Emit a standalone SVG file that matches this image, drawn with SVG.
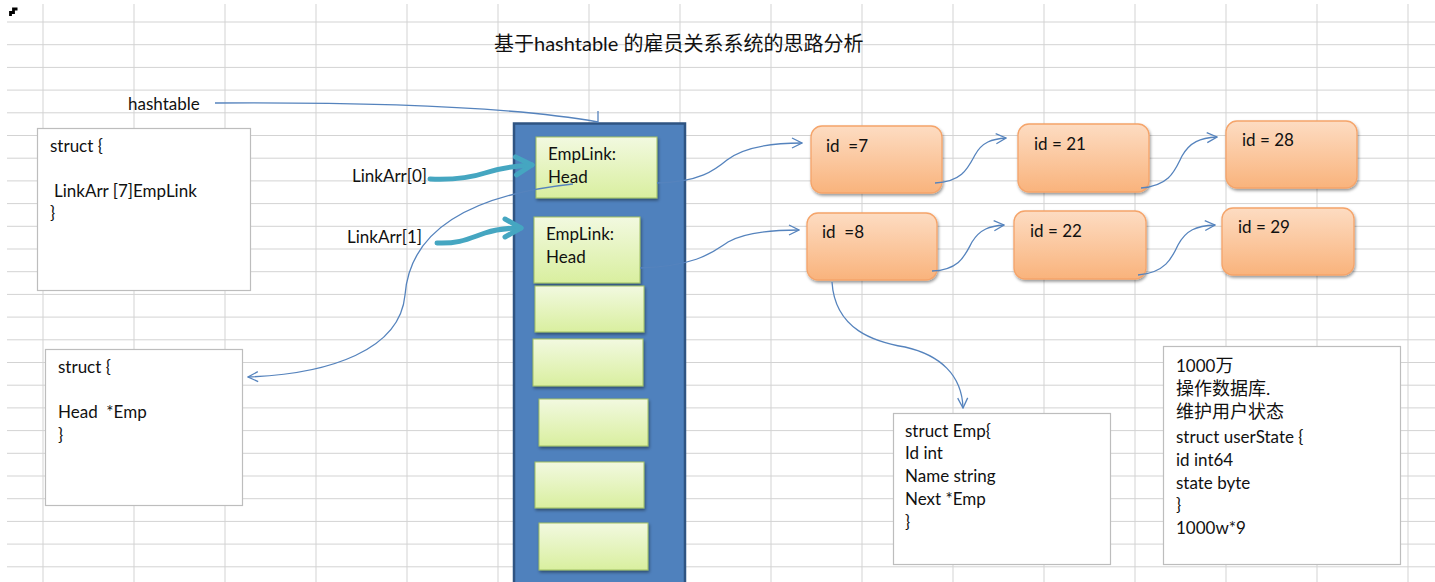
<svg xmlns="http://www.w3.org/2000/svg" width="1435" height="582" viewBox="0 0 1435 582">
<style>
text{font-family:"Lato","Noto Sans CJK SC",sans-serif;font-size:17px;fill:#111;white-space:pre}
.grid{stroke:#d3d3d3;stroke-width:1;fill:none}
.box{fill:#fff;stroke:#bdbdbd;stroke-width:1.2}
.green{fill:url(#gg);stroke:#9fbf62;stroke-width:1;filter:url(#sh)}
.orange{fill:url(#og);stroke:#f5a46a;stroke-width:1.3;filter:url(#sh)}
.conn{fill:none;stroke:#5583bd;stroke-width:1.3}
.teal{fill:none;stroke:#45a6c1;stroke-width:5;stroke-linecap:round;stroke-linejoin:round}
.cjk{font-size:18px}
</style>
<defs>
<linearGradient id="gg" x1="0" y1="0" x2="0" y2="1"><stop offset="0" stop-color="#f2f9e0"/><stop offset="1" stop-color="#d9ef9f"/></linearGradient>
<linearGradient id="og" x1="0" y1="0" x2="0" y2="1"><stop offset="0" stop-color="#fddcc2"/><stop offset="1" stop-color="#f9b37c"/></linearGradient>
<filter id="sh" x="-10%" y="-10%" width="130%" height="140%"><feDropShadow dx="1" dy="2" stdDeviation="1.5" flood-color="#000" flood-opacity="0.4"/></filter>
<marker id="ah" viewBox="0 0 12 12" refX="11" refY="6" markerWidth="12" markerHeight="12" markerUnits="userSpaceOnUse" orient="auto"><path d="M1,1 L11,6 L1,11" fill="none" stroke="#5583bd" stroke-width="1.3"/></marker>
<marker id="th" viewBox="0 0 24 24" refX="20" refY="12" markerWidth="24" markerHeight="24" markerUnits="userSpaceOnUse" orient="auto"><path d="M4,3 L20,12 L4,21" fill="none" stroke="#45a6c1" stroke-width="5" stroke-linecap="round" stroke-linejoin="round"/></marker>
</defs>
<rect width="1435" height="582" fill="#fff"/>
<g id="grid">
<path class="grid" d="M7,22H1435M7,44.7H1435M7,67.4H1435M7,90.1H1435M7,112.8H1435M7,135.5H1435M7,158.2H1435M7,180.9H1435M7,203.6H1435M7,226.3H1435M7,249H1435M7,271.7H1435M7,294.4H1435M7,317.1H1435M7,339.8H1435M7,362.5H1435M7,385.2H1435M7,407.9H1435M7,430.6H1435M7,453.3H1435M7,476H1435M7,498.7H1435M7,521.4H1435M7,544.1H1435M7,566.8H1435"/>
<path class="grid" d="M43,4V582M134,4V582M225,4V582M316,4V582M407,4V582M498,4V582M589,4V582M680,4V582M771,4V582M862,4V582M953,4V582M1044,4V582M1135,4V582M1226,4V582M1317,4V582M1408,4V582"/>
<path d="M10.5,16V12.5H13.5V9H17.5" fill="none" stroke="#000" stroke-width="2.8"/>
</g>
<text x="494" y="51" style="font-size:20px">基于hashtable 的雇员关系系统的思路分析</text>
<g id="hashtable-label"><text x="128" y="110">hashtable</text></g>
<g id="struct-linkarr">
<rect class="box" x="37.5" y="128.5" width="213" height="162"/>
<text x="50" y="152">struct {</text>
<text x="54" y="197">LinkArr [7]EmpLink</text>
<text x="50" y="219">}</text>
</g>
<g id="struct-head">
<rect class="box" x="45.5" y="349.5" width="197" height="156"/>
<text x="58" y="373">struct {</text>
<text x="58" y="418">Head  *Emp</text>
<text x="58" y="441">}</text>
</g>
<g id="label-linkarr0"><text x="352" y="182">LinkArr[0]</text></g>
<g id="label-linkarr1"><text x="347" y="243">LinkArr[1]</text></g>
<g id="hashtable-column">
<rect x="514" y="123.5" width="171" height="470" fill="#4f81bd" stroke="#2f5482" stroke-width="2.5"/>
</g>
<g id="emplink0"><rect class="green" x="536" y="137" width="121" height="61"/><text x="548" y="160">EmpLink:</text><text x="548" y="183">Head</text></g>
<g id="emplink1"><rect class="green" x="534" y="217" width="106" height="66"/><text x="546" y="240">EmpLink:</text><text x="546" y="263">Head</text></g>
<g id="emplink2"><rect class="green" x="535" y="286" width="109" height="46"/></g>
<g id="emplink3"><rect class="green" x="533" y="339" width="110" height="47"/></g>
<g id="emplink4"><rect class="green" x="539" y="399" width="109" height="47"/></g>
<g id="emplink5"><rect class="green" x="535" y="462" width="109" height="46"/></g>
<g id="emplink6"><rect class="green" x="539" y="523" width="109" height="47"/></g>
<g id="emp7"><rect class="orange" x="811" y="126" width="131" height="67" rx="11"/><text x="826" y="152">id  =7</text></g>
<g id="emp21"><rect class="orange" x="1018" y="124" width="131" height="68" rx="11"/><text x="1034" y="150">id = 21</text></g>
<g id="emp28"><rect class="orange" x="1226" y="121" width="131" height="67" rx="11"/><text x="1242" y="146">id = 28</text></g>
<g id="emp8"><rect class="orange" x="807" y="213" width="130" height="67" rx="11"/><text x="822" y="238">id  =8</text></g>
<g id="emp22"><rect class="orange" x="1014" y="211" width="132" height="68" rx="11"/><text x="1030" y="237">id = 22</text></g>
<g id="emp29"><rect class="orange" x="1222" y="208" width="132" height="67" rx="11"/><text x="1238" y="233">id = 29</text></g>
<g id="struct-emp">
<rect class="box" x="893.5" y="413.5" width="217" height="151"/>
<text x="905" y="437">struct Emp{</text>
<text x="905" y="459">Id int</text>
<text x="905" y="482">Name string</text>
<text x="905" y="505">Next *Emp</text>
<text x="905" y="528">}</text>
</g>
<g id="user-state">
<rect class="box" x="1163.5" y="346.5" width="237" height="218"/>
<text x="1176" y="372">1000<tspan class="cjk">万</tspan></text>
<text x="1176" y="395" class="cjk">操作数据库.</text>
<text x="1176" y="418" class="cjk">维护用户状态</text>
<text x="1176" y="443">struct userState {</text>
<text x="1176" y="466">id int64</text>
<text x="1176" y="489">state byte</text>
<text x="1176" y="511">}</text>
<text x="1176" y="534">1000w*9</text>
</g>
<g id="connectors">
<path class="conn" d="M215,103 C 380,102 520,108 598,122"/>
<path class="conn" d="M598,111 V123"/>
<path class="teal" d="M430,179 C 455,180 470,178 485,173 C 500,168 515,166 532,165" marker-end="url(#th)"/>
<path class="teal" d="M437,243 C 460,244 470,238 485,233 C 497,229 508,228 521,228" marker-end="url(#th)"/>
<path class="conn" d="M573,184 C 470,195 410,230 405,295 C 400,350 330,374 248,377" marker-end="url(#ah)"/>
<path class="conn" d="M657,183 C 700,182 715,170 727,160 C 745,146 775,143 802,143" marker-end="url(#ah)"/>
<path class="conn" d="M640,268 C 700,266 715,250 728,242 C 745,232 775,230 799,230" marker-end="url(#ah)"/>
<path class="conn" d="M935,183 C 962,182 968,168 975,155 C 982,142 992,139 1006,138" marker-end="url(#ah)"/>
<path class="conn" d="M1141,188 C 1170,186 1175,170 1182,156 C 1190,142 1200,138 1217,137" marker-end="url(#ah)"/>
<path class="conn" d="M932,271 C 960,270 965,255 972,242 C 980,229 990,226 1004,225" marker-end="url(#ah)"/>
<path class="conn" d="M1138,275 C 1165,273 1172,258 1178,245 C 1186,230 1196,226 1215,225" marker-end="url(#ah)"/>
<path class="conn" d="M832,282 C 835,330 875,342 905,347 C 940,355 962,375 963,408" marker-end="url(#ah)"/>
</g>
</svg>
